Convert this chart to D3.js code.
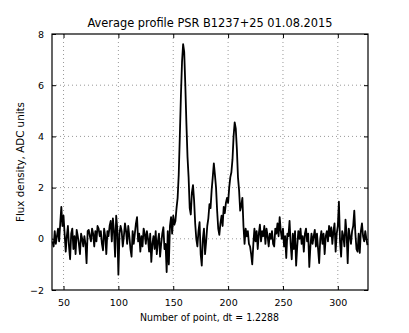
<!DOCTYPE html>
<html>
<head>
<meta charset="utf-8">
<script src="https://cdn.jsdelivr.net/npm/d3@7"></script>
<style>
  body { margin: 0; background: #fff; }
  text { font-family: "DejaVu Sans", sans-serif; fill: #000; }
  .grid line { stroke: #999; stroke-dasharray: 1,3; }
</style>
</head>
<body>
<svg id="chart" width="409" height="333"></svg>
<script>
// profile samples, point numbers start at 40
var startPoint = 40;
var flux = [
  -0.1, -0.3, 0.3, -0.2, 0.1, 0.4, -0.1, 0.6, 1.25, 0.5,
  0.9, 0.2, -0.5, 0.1, 0.5, -0.3, -0.8, 0.2, 0.4, -0.4,
  0.1, -0.6, 0.35, 0.1, -0.2, -0.6, 0.2, 0.0, -0.3, 0.1,
  -0.2, -0.95, 0.3, 0.35, 0.1, -0.1, 0.4, 0.2, -0.3, 0.3,
  -0.1, 0.5, 0.4, 0.1, 0.3, -0.2, -0.45, 0.4, 0.1, -0.6,
  0.3, 0.1, 0.5, 0.7, -0.1, 0.8, 0.3, -0.7, 0.9, 0.4,
  -1.4, 0.2, 0.5, 0.3, -0.3, 0.1, 0.6, 0.3, -0.2, 0.5,
  0.1, -0.4, -0.7, 0.3, -0.2, 0.2, 0.6, 0.85, -0.1, 0.2,
  -0.5, 0.1, -0.3, 0.4, 0.2, -0.2, 0.3, 0.0, -0.5, 0.2,
  -0.9, -0.2, 0.1, -0.4, 0.3, -0.6, -0.1, 0.2, -0.7, -0.2,
  0.2, 0.45, -0.4, -0.2, -1.3, 0.3, -1.0, 0.5, 0.85, 0.2,
  0.9, 0.55, 0.7, 1.2, 1.6, 2.5, 4.0, 5.6, 6.9, 7.6,
  7.3, 6.0, 4.5, 3.2, 2.4, 1.2, 0.95, 1.8, 2.1, 1.5,
  0.6, 0.0, -0.3, 0.3, 0.65, -0.6, -1.05, 0.0, 0.4, -0.6,
  -0.1, 0.5, 0.8, 1.35, 1.2, 1.9, 2.4, 2.95, 2.5, 2.0,
  1.1, 0.4, 0.15, 0.6, 0.9, 0.5, 1.25, 1.0, 1.4, 1.6,
  1.4, 2.0, 2.4, 2.6, 3.1, 4.0, 4.55, 4.3, 3.5, 2.4,
  1.9, 1.1, 1.3, 1.6, 0.5, -0.2, 0.4, 0.1, 0.3, -0.2,
  -0.3, -0.6, -1.0, -0.2, 0.4, -0.1, 0.3, -0.4, 0.2, 0.55,
  -0.1, 0.3, 0.1, 0.5, -0.2, 0.4, 0.1, -0.3, 0.2, 0.0,
  0.3, -0.2, -0.3, 0.4, 0.2, 0.6, 0.1, 0.85, 0.3, 0.0,
  0.4, -0.3, 0.1, -0.75, 0.2, 0.1, 0.7, -0.2, -0.8, 0.2,
  -0.4, 0.3, -1.05, -0.3, 0.3, 0.0, 0.4, -0.2, 0.1, -0.5,
  0.2, 0.4, -0.1, 0.2, -1.1, -0.3, 0.2, -0.2, 0.1, 0.35,
  -0.3, 0.2, -0.4, -0.95, 0.0, 0.3, -0.2, 0.2, -0.6, 0.1,
  0.3, -0.1, 0.5, 0.1, 0.45, -0.2, 0.3, 0.6, -0.5, 0.2,
  0.5, 1.45, -0.1, -0.7, 0.3, 0.1, -0.3, 0.75, 0.2, -0.95,
  0.4, 0.1, -0.2, 0.3, 0.5, 1.1, 0.2, -0.4, -0.5, 0.2,
  -0.55, 0.3, 0.6, 0.1, -0.1, 0.3, 0.0, -0.25
];
var xTicks = [50, 100, 150, 200, 250, 300];
var yTicks = [-2, 0, 2, 4, 6, 8];

var titleText = "Average profile PSR B1237+25 01.08.2015";
var xLabelText = "Number of point, dt = 1.2288";
var yLabelText = "Flux density, ADC units";

var margin = {left: 52, right: 41, top: 34, bottom: 43};
var width = 409 - margin.left - margin.right;
var height = 333 - margin.top - margin.bottom;

var svg = d3.select("#chart");
var g = svg.append("g").attr("transform", "translate(" + margin.left + "," + margin.top + ")");

var x = d3.scaleLinear().domain([39.5, 327.5]).range([0, width]);
var y = d3.scaleLinear().domain([-2, 8]).range([height, 0]);

// grid
g.append("g").attr("class", "grid")
  .selectAll("line.gx").data(xTicks).enter().append("line")
  .attr("x1", function (d) { return x(d); }).attr("x2", function (d) { return x(d); })
  .attr("y1", 0).attr("y2", height);
g.append("g").attr("class", "grid")
  .selectAll("line.gy").data(yTicks.slice(1, -1)).enter().append("line")
  .attr("y1", function (d) { return y(d); }).attr("y2", function (d) { return y(d); })
  .attr("x1", 0).attr("x2", width);

// profile line
var line = d3.line()
  .x(function (d, i) { return x(startPoint + i); })
  .y(function (d) { return y(d); });

g.append("path")
  .datum(flux)
  .attr("d", line)
  .attr("fill", "none")
  .attr("stroke", "#000")
  .attr("stroke-width", 1.8)
  .attr("stroke-linejoin", "round");

// axes, ticks pointing inward like matplotlib classic
function styleAxis(sel) {
  sel.select(".domain").remove();
  sel.selectAll(".tick line").attr("stroke", "#000");
  sel.selectAll(".tick text").style("font-size", "9.5px").style("font-family", "DejaVu Sans");
}

g.append("g").attr("transform", "translate(0," + height + ")")
  .call(d3.axisBottom(x).tickValues(xTicks).tickSize(-4).tickPadding(9).tickFormat(d3.format("d")))
  .call(styleAxis);
g.append("g")
  .call(d3.axisTop(x).tickValues(xTicks).tickSize(-4).tickFormat(""))
  .call(styleAxis);
g.append("g")
  .call(d3.axisLeft(y).tickValues(yTicks).tickSize(-4).tickPadding(8).tickFormat(d3.format("d")))
  .call(styleAxis);
g.append("g").attr("transform", "translate(" + width + ",0)")
  .call(d3.axisRight(y).tickValues(yTicks).tickSize(-4).tickFormat(""))
  .call(styleAxis);

// frame
g.append("rect")
  .attr("width", width).attr("height", height)
  .attr("fill", "none").attr("stroke", "#000").attr("stroke-width", 1.2);

// labels
svg.append("text")
  .attr("x", margin.left + width / 2).attr("y", 27)
  .attr("text-anchor", "middle")
  .attr("textLength", 245).attr("lengthAdjust", "spacingAndGlyphs")
  .style("font-size", "12.5px")
  .text(titleText);

svg.append("text")
  .attr("x", 209.5).attr("y", 321)
  .attr("text-anchor", "middle")
  .attr("textLength", 139).attr("lengthAdjust", "spacingAndGlyphs")
  .style("font-size", "10.5px")
  .text(xLabelText);

svg.append("text")
  .attr("transform", "translate(24," + (margin.top + height / 2) + ") rotate(-90)")
  .attr("text-anchor", "middle")
  .attr("textLength", 120).attr("lengthAdjust", "spacingAndGlyphs")
  .style("font-size", "10.5px")
  .text(yLabelText);
</script>
</body>
</html>
